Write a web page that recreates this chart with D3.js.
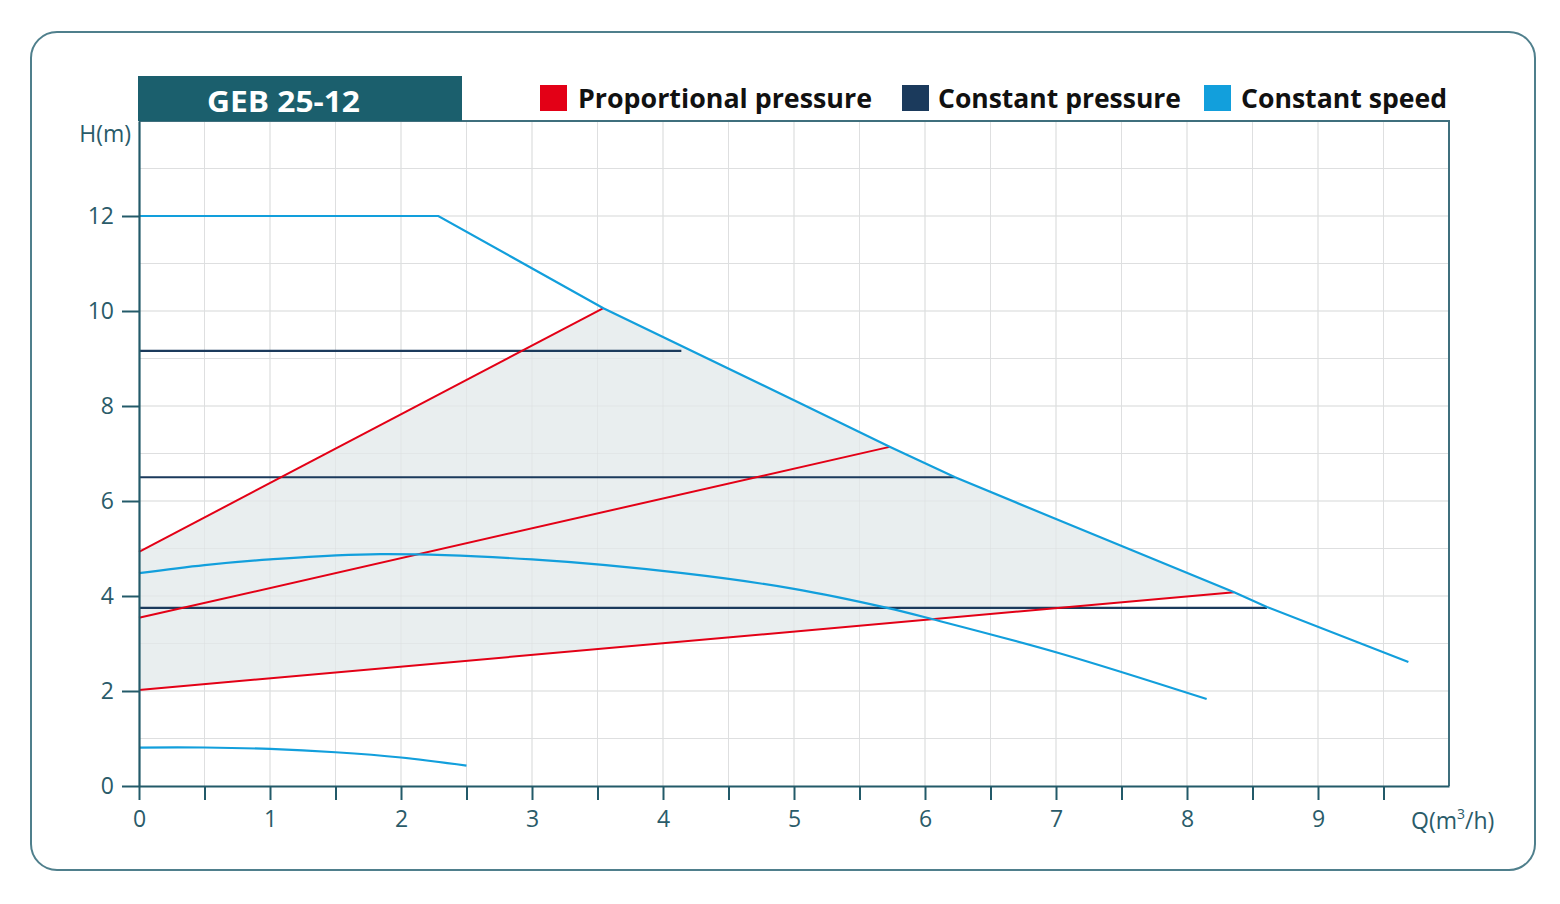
<!DOCTYPE html>
<html><head><meta charset="utf-8">
<script src="https://cdn.jsdelivr.net/npm/d3@7"></script>
<style>
html,body{margin:0;padding:0;background:#fff;}
svg{display:block;}
</style></head>
<body>
<svg id="chart" width="1560" height="904"></svg>
<script>
// ---------- DATA ----------
const title = "GEB 25-12";
const legendLabels = ["Proportional pressure", "Constant pressure", "Constant speed"];
const xTickValues = [0,1,2,3,4,5,6,7,8,9];
const yTickValues = [0,2,4,6,8,10,12];

// Constant speed (max) curve: [Q, H]
const speedMax = [[0,12],[2.285,12],[3.545,10.06],[5.0,8.12],[5.73,7.14],[6.23,6.5],[7.0,5.62],[8.36,4.08],[8.61,3.77],[9.69,2.61]];
// Constant speed (mid) curve
const speedMid = [[0,4.48],[0.5,4.65],[1,4.77],[1.84,4.88],[3,4.77],[4.15,4.48],[5,4.15],[5.71,3.75],[6.06,3.51],[7.02,2.80],[8.15,1.83]];
// Constant speed (min) curve
const speedMin = [[0,0.81],[0.5,0.81],[1,0.78],[1.5,0.71],[2,0.60],[2.5,0.43]];

// Proportional pressure lines
const propLines = [
  [[0,4.93],[3.545,10.06]],
  [[0,3.54],[5.73,7.14]],
  [[0,2.02],[8.36,4.08]]
];
// Constant pressure lines
const constLines = [
  [[0,9.16],[4.14,9.16]],
  [[0,6.5],[6.23,6.5]],
  [[0,3.75],[8.61,3.75]]
];

// ---------- STYLE ----------
const C_RED = "#e30016", C_NAVY = "#1b3a5c", C_BLUE = "#129fdc";
const C_TEAL = "#1b5f6d", C_AXIS = "#235a69", C_TEXT = "#2a5b69";

const svg = d3.select("#chart");
const x = d3.scaleLinear().domain([0,10]).range([139,1449]);
const y = d3.scaleLinear().domain([0,14]).range([786,121]);

// outer rounded frame
svg.append("rect").attr("x",31).attr("y",32).attr("width",1504).attr("height",838)
  .attr("rx",26).attr("fill","none").attr("stroke","#4f7f8c").attr("stroke-width",2);

// grid
const g = svg.append("g");
g.selectAll(".vg").data(d3.range(0.5,10,0.5)).join("line")
  .attr("x1",d=>x(d)).attr("x2",d=>x(d)).attr("y1",y(0)).attr("y2",y(14))
  .attr("stroke","#e1e1e1").attr("stroke-width",1);
g.selectAll(".hg").data(d3.range(1,14,1)).join("line")
  .attr("x1",x(0)).attr("x2",x(10)).attr("y1",d=>y(d)).attr("y2",d=>y(d))
  .attr("stroke","#e1e1e1").attr("stroke-width",1);

// shaded operating area
const lineGen = d3.line().x(d=>x(d[0])).y(d=>y(d[1]));
const low = propLines[2], high = propLines[0];
const maxPart = speedMax.filter(d=>d[0]>=high[1][0] && d[0]<=low[1][0]);
const area = [low[0], low[1], ...maxPart.slice().reverse(), high[1], high[0]];
g.append("path").attr("d", lineGen(area)+"Z").attr("fill","#e9eeef").attr("stroke","none");

// grid lines lightly over fill
g.selectAll(".vg2").data(d3.range(0.5,10,0.5)).join("line")
  .attr("x1",d=>x(d)).attr("x2",d=>x(d)).attr("y1",y(0)).attr("y2",y(14))
  .attr("stroke","#dcdfe0").attr("stroke-width",1).attr("opacity",0.5);
g.selectAll(".hg2").data(d3.range(1,14,1)).join("line")
  .attr("x1",x(0)).attr("x2",x(10)).attr("y1",d=>y(d)).attr("y2",d=>y(d))
  .attr("stroke","#dcdfe0").attr("stroke-width",1).attr("opacity",0.5);

// plot frame top & right
svg.append("path").attr("d",`M${x(0)},${y(14)}H${x(10)}V${y(0)}`)
  .attr("fill","none").attr("stroke","#3f6f7d").attr("stroke-width",2);

// constant pressure lines
constLines.forEach(l=>svg.append("path").attr("d",lineGen(l))
  .attr("fill","none").attr("stroke",C_NAVY).attr("stroke-width",2.2));
// proportional lines
propLines.forEach(l=>svg.append("path").attr("d",lineGen(l))
  .attr("fill","none").attr("stroke",C_RED).attr("stroke-width",2));
// constant speed curves
const curveGen = d3.line().x(d=>x(d[0])).y(d=>y(d[1])).curve(d3.curveCatmullRom.alpha(0.5));
svg.append("path").attr("d",lineGen(speedMax)).attr("fill","none").attr("stroke",C_BLUE).attr("stroke-width",2.2);
svg.append("path").attr("d",curveGen(speedMid)).attr("fill","none").attr("stroke",C_BLUE).attr("stroke-width",2.2);
svg.append("path").attr("d",curveGen(speedMin)).attr("fill","none").attr("stroke",C_BLUE).attr("stroke-width",2.2);

// axes
const fontFam = "'Open Sans', 'Noto Sans', sans-serif";
const yAxis = svg.append("g").attr("transform",`translate(${x(0)},0)`)
  .call(d3.axisLeft(y).tickValues(yTickValues).tickSize(17).tickSizeOuter(0).tickPadding(8));
const xAxis = svg.append("g").attr("transform",`translate(0,${y(0)})`)
  .call(d3.axisBottom(x).tickValues(d3.range(0,10,0.5)).tickSize(14).tickSizeOuter(0).tickPadding(11)
    .tickFormat(d=>xTickValues.includes(d)?String(d):""));
[yAxis,xAxis].forEach(a=>{
  a.select(".domain").attr("stroke",C_AXIS).attr("stroke-width",2.2);
  a.selectAll(".tick line").attr("stroke",C_AXIS).attr("stroke-width",2);
  a.selectAll(".tick text").attr("fill",C_TEXT).attr("font-family",fontFam).attr("font-size",23);
});

// axis titles
svg.append("text").attr("x",131).attr("y",142).attr("text-anchor","end")
  .attr("font-family",fontFam).attr("font-size",23).attr("fill",C_TEXT).text("H(m)");
const qt = svg.append("text").attr("x",1411).attr("y",829)
  .attr("font-family",fontFam).attr("font-size",23).attr("fill",C_TEXT);
qt.append("tspan").text("Q(m");
qt.append("tspan").attr("font-size",14).attr("dy",-10).text("3");
qt.append("tspan").attr("dy",10).text("/h)");

// title box
svg.append("rect").attr("x",138).attr("y",76).attr("width",324).attr("height",45).attr("fill",C_TEAL);
svg.append("text").attr("x",207).attr("y",112).attr("textLength",153).attr("lengthAdjust","spacingAndGlyphs")
  .attr("font-family",fontFam).attr("font-weight",700).attr("font-size",28).attr("fill","#fff").text(title);

// legend
const legendColors = [C_RED, C_NAVY, C_BLUE];
const legendPos = [{sx:540, tx:578, tw:294},{sx:902, tx:938, tw:243},{sx:1204, tx:1241, tw:206}];
legendLabels.forEach((lab,i)=>{
  const p = legendPos[i];
  svg.append("rect").attr("x",p.sx).attr("y",85).attr("width",27).attr("height",26).attr("fill",legendColors[i]);
  svg.append("text").attr("x",p.tx).attr("y",108).attr("textLength",p.tw).attr("lengthAdjust","spacingAndGlyphs")
    .attr("font-family",fontFam).attr("font-weight",700).attr("font-size",27).attr("fill","#111").text(lab);
});
</script>
</body></html>
